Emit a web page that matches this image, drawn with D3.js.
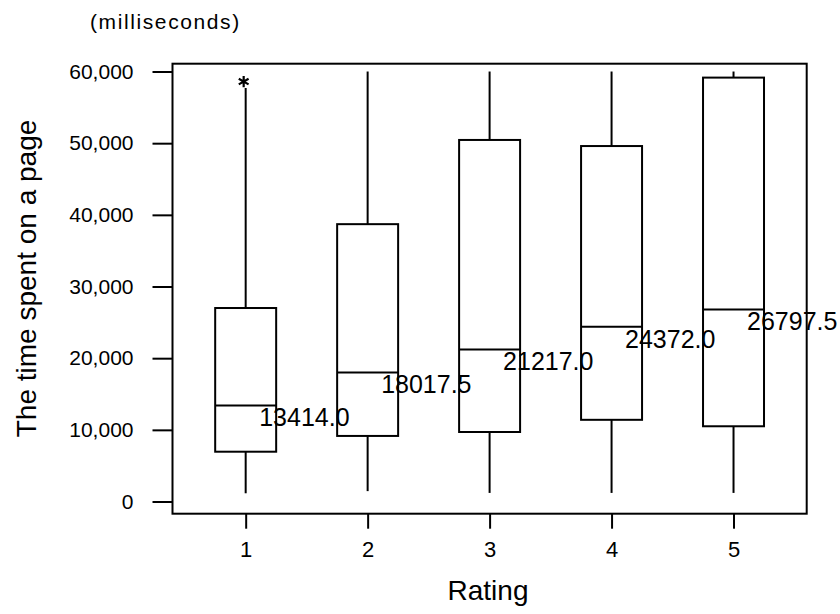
<!DOCTYPE html>
<meta charset="utf-8">
<script src="https://d3js.org/d3.v7.min.js"></script>
<style>
  body { margin: 0; background: #fff; }
  text { font-family: Arial, "Liberation Sans", sans-serif; fill: #000; }
</style>
<div id="chart"></div>
<script>

// data
const ratings   = [1, 2, 3, 4, 5];
const whiskerLo = [1150, 1450, 1200, 1200, 1200];
const q1        = [6950, 9150, 9700, 11400, 10500];
const medians   = [13414.0, 18017.5, 21217.0, 24372.0, 26797.5];
const q3        = [27000, 38700, 50450, 49600, 59150];
const whiskerHi = [57700, 60000, 60000, 60000, 60000];
const outliers  = [{rating: 1, value: 58600}];
const yTicks    = [0, 10000, 20000, 30000, 40000, 50000, 60000];

const W = 840, H = 614;
const plotL = 172.5, plotR = 806.7, plotT = 63.7, plotB = 513.7;

const svg = d3.select("#chart").append("svg")
  .attr("width", W)
  .attr("height", H);

const x = d3.scaleLinear().domain([0.4, 5.6]).range([plotL, plotR]);
const y = d3.scaleLinear().domain([-1700, 61090]).range([plotB, plotT]);

const boxes = ratings.map((r, i) => ({
  r: r, lo: whiskerLo[i], q1: q1[i], med: medians[i], q3: q3[i], hi: whiskerHi[i]
}));

// frame
svg.append("rect")
  .attr("x", plotL).attr("y", plotT)
  .attr("width", plotR - plotL).attr("height", plotB - plotT)
  .attr("fill", "none").attr("stroke", "#000").attr("stroke-width", 2);

// y axis
const yAxis = svg.append("g")
  .attr("transform", `translate(${plotL},0)`)
  .call(d3.axisLeft(y).tickValues(yTicks).tickSize(20).tickPadding(19)
    .tickFormat(d3.format(",")));
yAxis.select(".domain").remove();
yAxis.selectAll(".tick line").attr("stroke-width", 2);
yAxis.selectAll(".tick text")
  .style("font-size", "21px")
  .style("font-family", "Arial, 'Liberation Sans', sans-serif");

// x axis
const xAxis = svg.append("g")
  .attr("transform", `translate(0,${plotB})`)
  .call(d3.axisBottom(x).tickValues(ratings).tickSize(15).tickPadding(13)
    .tickFormat(d3.format("d")));
xAxis.select(".domain").remove();
xAxis.selectAll(".tick line").attr("stroke-width", 2);
xAxis.selectAll(".tick text")
  .style("font-size", "22px")
  .style("font-family", "Arial, 'Liberation Sans', sans-serif");

const halfW = (x(1.25) - x(1)); // half box width in px

// whiskers
const g = svg.append("g").attr("stroke", "#000").attr("stroke-width", 2);
g.selectAll("line.lowW").data(boxes).join("line")
  .attr("class", "lowW")
  .attr("x1", d => x(d.r)).attr("x2", d => x(d.r))
  .attr("y1", d => y(d.lo)).attr("y2", d => y(d.q1));
g.selectAll("line.hiW").data(boxes).join("line")
  .attr("class", "hiW")
  .attr("x1", d => x(d.r)).attr("x2", d => x(d.r))
  .attr("y1", d => y(d.q3)).attr("y2", d => y(d.hi));

// boxes
g.selectAll("rect").data(boxes).join("rect")
  .attr("x", d => x(d.r) - halfW)
  .attr("width", halfW * 2)
  .attr("y", d => y(d.q3))
  .attr("height", d => y(d.q1) - y(d.q3))
  .attr("fill", "none");

// median lines
g.selectAll("line.med").data(boxes).join("line")
  .attr("class", "med")
  .attr("x1", d => x(d.r) - halfW).attr("x2", d => x(d.r) + halfW)
  .attr("y1", d => y(d.med)).attr("y2", d => y(d.med));

// outliers
svg.selectAll("path.out").data(outliers).join("path")
  .attr("class", "out")
  .attr("transform", d => `translate(${x(d.rating) - 2},${y(d.value)})`)
  .attr("d", d3.symbol(d3.symbolAsterisk, 90))
  .attr("fill", "none").attr("stroke", "#000").attr("stroke-width", 2.2);

// median labels
svg.selectAll("text.medLabel").data(boxes).join("text")
  .attr("class", "medLabel")
  .attr("x", d => x(d.r) + 13.5)
  .attr("y", d => y(d.med) + 21)
  .style("font-size", "25px")
  .text(d => d3.format(".1f")(d.med));

// titles
svg.append("text")
  .attr("x", 90).attr("y", 29)
  .style("font-size", "21px")
  .style("letter-spacing", "1.6px")
  .text("(milliseconds)");

svg.append("text")
  .attr("transform", `translate(36,${(120 + 437) / 2}) rotate(-90)`)
  .attr("text-anchor", "middle")
  .style("font-size", "28px")
  .text("The time spent on a page");

svg.append("text")
  .attr("x", 488).attr("y", 600)
  .attr("text-anchor", "middle")
  .style("font-size", "28px")
  .text("Rating");

</script>
